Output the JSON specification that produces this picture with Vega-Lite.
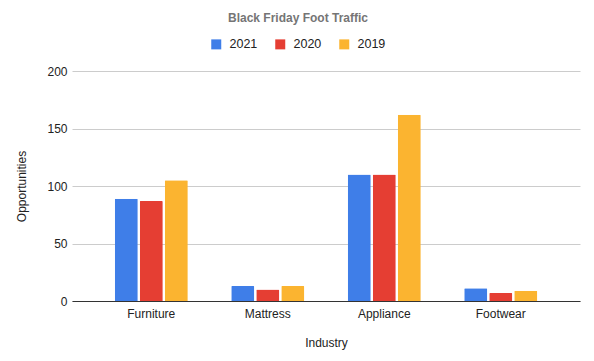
{
  "$schema": "https://vega.github.io/schema/vega-lite/v6.json",
  "autosize": {"type": "none"},
  "width": 508,
  "height": 230,
  "padding": {"left": 72, "top": 71, "right": 14, "bottom": 60},
  "background": "white",
  "config": {
    "font": "Liberation Sans",
    "view": {"stroke": null}
  },
  "title": {
    "text": "Black Friday Foot Traffic",
    "fontSize": 12,
    "fontWeight": "bold",
    "color": "#757575",
    "anchor": "middle",
    "dx": -28,
    "offset": 13
  },
  "data": {
    "values": [
      {"Industry": "Furniture", "Year": "2021", "Opportunities": 89},
      {"Industry": "Furniture", "Year": "2020", "Opportunities": 87},
      {"Industry": "Furniture", "Year": "2019", "Opportunities": 105},
      {"Industry": "Mattress", "Year": "2021", "Opportunities": 13},
      {"Industry": "Mattress", "Year": "2020", "Opportunities": 10},
      {"Industry": "Mattress", "Year": "2019", "Opportunities": 13},
      {"Industry": "Appliance", "Year": "2021", "Opportunities": 110},
      {"Industry": "Appliance", "Year": "2020", "Opportunities": 110},
      {"Industry": "Appliance", "Year": "2019", "Opportunities": 162},
      {"Industry": "Footwear", "Year": "2021", "Opportunities": 11},
      {"Industry": "Footwear", "Year": "2020", "Opportunities": 7},
      {"Industry": "Footwear", "Year": "2019", "Opportunities": 9}
    ]
  },
  "mark": {"type": "bar", "cornerRadiusTopLeft": 1, "cornerRadiusTopRight": 1},
  "encoding": {
    "x": {
      "field": "Industry",
      "type": "nominal",
      "sort": ["Furniture", "Mattress", "Appliance", "Footwear"],
      "scale": {"paddingInner": 0.373, "paddingOuter": 0.367},
      "axis": {
        "labelAngle": 0,
        "labelFontSize": 12,
        "labelColor": "#222222",
        "labelPadding": 7,
        "ticks": false,
        "domainColor": "#333333",
        "grid": false,
        "title": "Industry",
        "titleFontSize": 12,
        "titleFontWeight": "normal",
        "titleColor": "#222222",
        "titlePadding": 18
      }
    },
    "xOffset": {
      "field": "Year",
      "type": "nominal",
      "sort": ["2021", "2020", "2019"],
      "scale": {"paddingInner": 0.08}
    },
    "y": {
      "field": "Opportunities",
      "type": "quantitative",
      "scale": {"domain": [0, 200]},
      "axis": {
        "values": [0, 50, 100, 150, 200],
        "labelFontSize": 12,
        "labelColor": "#222222",
        "labelPadding": 5,
        "ticks": false,
        "domain": false,
        "gridColor": "#cccccc",
        "title": "Opportunities",
        "titleFontSize": 12,
        "titleFontWeight": "normal",
        "titleColor": "#222222",
        "titlePadding": 18
      }
    },
    "color": {
      "field": "Year",
      "type": "nominal",
      "sort": ["2021", "2020", "2019"],
      "scale": {"domain": ["2021", "2020", "2019"], "range": ["#3F7EE8", "#E53E33", "#FBB430"]},
      "legend": {
        "orient": "none",
        "direction": "horizontal",
        "legendX": 138,
        "legendY": -33,
        "title": null,
        "symbolType": "square",
        "symbolSize": 100,
        "symbolStrokeWidth": 0,
        "symbolOpacity": 1,
        "labelFontSize": 12.5,
        "labelColor": "#222222",
        "labelOffset": 7,
        "columnPadding": 16
      }
    }
  }
}
